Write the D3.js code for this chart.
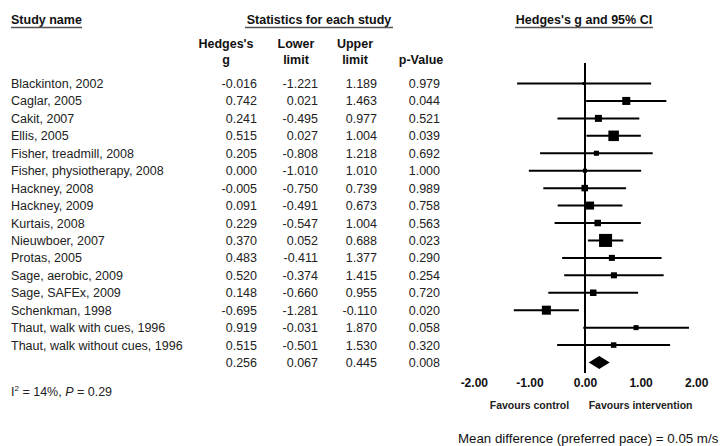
<!DOCTYPE html>
<html>
<head>
<meta charset="utf-8">
<script src="https://cdn.jsdelivr.net/npm/d3@7"></script>
<style>
  body { margin: 0; background: #fff; }
  svg { font-family: "Liberation Sans", Arial, sans-serif; }
</style>
</head>
<body>
<div id="chart"></div>
<script>
// forest plot: Hedges's g, preferred walking pace

const studies = [
    "Blackinton, 2002", "Caglar, 2005", "Cakit, 2007", "Ellis, 2005",
    "Fisher, treadmill, 2008", "Fisher, physiotherapy, 2008", "Hackney, 2008",
    "Hackney, 2009", "Kurtais, 2008", "Nieuwboer, 2007", "Protas, 2005",
    "Sage, aerobic, 2009", "Sage, SAFEx, 2009", "Schenkman, 1998",
    "Thaut, walk with cues, 1996", "Thaut, walk without cues, 1996"
];
const hedgesG = [-0.016, 0.742, 0.241, 0.515, 0.205, 0.000, -0.005, 0.091, 0.229, 0.370, 0.483, 0.520, 0.148, -0.695, 0.919, 0.515];
const lowerLimit = [-1.221, 0.021, -0.495, 0.027, -0.808, -1.010, -0.750, -0.491, -0.547, 0.052, -0.411, -0.374, -0.660, -1.281, -0.031, -0.501];
const upperLimit = [1.189, 1.463, 0.977, 1.004, 1.218, 1.010, 0.739, 0.673, 1.004, 0.688, 1.377, 1.415, 0.955, -0.110, 1.870, 1.530];
const pValues = [0.979, 0.044, 0.521, 0.039, 0.692, 1.000, 0.989, 0.758, 0.563, 0.023, 0.290, 0.254, 0.720, 0.020, 0.058, 0.320];
// relative weights (%) estimated from square sizes
const weights = [1.1, 7.6, 5.8, 13.1, 3.0, 1.9, 5.0, 7.6, 5.0, 20.1, 4.3, 4.3, 5.0, 9.6, 3.0, 3.6];

const summaryG = 0.256, summaryLower = 0.067, summaryUpper = 0.445, summaryP = 0.008;
const xTicks = [-2, -1, 0, 1, 2];

const width = 720, height = 446;
const svg = d3.select("#chart").append("svg")
    .attr("width", width).attr("height", height);

const x = d3.scaleLinear().domain([-2, 2]).range([473.8, 696.2]);
const y = d3.scaleLinear().domain([0, studies.length]).range([83.5, 362.5]);
const side = d3.scaleSqrt().domain([0, 20]).range([0, 13]);

// plain hyphen for negatives, like the original
const locale = d3.formatLocale({ decimal: ".", thousands: ",", grouping: [3], currency: ["", ""], minus: "-" });
const fmt = locale.format(".3f");
const fmtTick = locale.format(".2f");

const FS = "12.5px";

// --- headers ---
function header(txt, cx, cy, anchor, x1, x2) {
    svg.append("text").attr("x", cx).attr("y", cy)
        .attr("text-anchor", anchor).attr("font-size", FS).attr("font-weight", "bold")
        .attr("fill", "#111").text(txt);
    svg.append("line").attr("x1", x1).attr("x2", x2).attr("y1", cy + 3.5).attr("y2", cy + 3.5)
        .attr("stroke", "#555").attr("stroke-width", 1.3);
}
header("Study name", 11, 24, "start", 11, 82);
header("Statistics for each study", 319, 24, "middle", 245, 393);
header("Hedges's g and 95% CI", 584, 24, "middle", 515, 653);

const cols = [
    { lines: ["Hedges's", "g"], cx: 226, right: 257, vals: hedgesG, sum: summaryG },
    { lines: ["Lower", "limit"], cx: 296, right: 318, vals: lowerLimit, sum: summaryLower },
    { lines: ["Upper", "limit"], cx: 355, right: 377, vals: upperLimit, sum: summaryUpper },
    { lines: ["", "p-Value"], cx: 421, right: 440, vals: pValues, sum: summaryP }
];

cols.forEach(c => {
    c.lines.forEach((l, i) => {
        svg.append("text").attr("x", c.cx).attr("y", 47.5 + i * 16)
            .attr("text-anchor", "middle").attr("font-size", FS).attr("font-weight", "bold")
            .attr("fill", "#111").text(l);
    });
    svg.append("g").selectAll("text").data(c.vals.concat([c.sum])).join("text")
        .attr("x", c.right).attr("y", (d, i) => y(i) + 4.5)
        .attr("text-anchor", "end").attr("font-size", FS).attr("fill", "#222")
        .text(d => fmt(d));
});

svg.append("g").selectAll("text").data(studies).join("text")
    .attr("x", 11).attr("y", (d, i) => y(i) + 4.5)
    .attr("font-size", FS).attr("fill", "#222")
    .text(d => d);

// --- plot ---
const plot = svg.append("g");

plot.append("line")
    .attr("x1", x(0)).attr("x2", x(0)).attr("y1", 63).attr("y2", 373)
    .attr("stroke", "#000").attr("stroke-width", 2);

plot.selectAll(".ci").data(studies).join("line")
    .attr("class", "ci")
    .attr("x1", (d, i) => x(lowerLimit[i])).attr("x2", (d, i) => x(upperLimit[i]))
    .attr("y1", (d, i) => y(i)).attr("y2", (d, i) => y(i))
    .attr("stroke", "#000").attr("stroke-width", 2);

plot.selectAll(".sq").data(studies).join("rect")
    .attr("class", "sq")
    .attr("x", (d, i) => x(hedgesG[i]) - side(weights[i]) / 2)
    .attr("y", (d, i) => y(i) - side(weights[i]) / 2)
    .attr("width", (d, i) => side(weights[i]))
    .attr("height", (d, i) => side(weights[i]))
    .attr("fill", "#000");

const ys = y(studies.length);
plot.append("path")
    .attr("d", `M${x(summaryLower)},${ys} L${x(summaryG)},${ys - 6.5} L${x(summaryUpper)},${ys} L${x(summaryG)},${ys + 6.5} Z`)
    .attr("fill", "#000");

// --- axis (labels only) ---
const axisG = svg.append("g").attr("transform", "translate(0,374)")
    .call(d3.axisBottom(x).tickValues(xTicks).tickSize(0).tickPadding(4).tickFormat(fmtTick));
axisG.select(".domain").remove();
axisG.selectAll("text").attr("font-size", "12px").attr("font-weight", "bold")
    .attr("font-family", "Liberation Sans, Arial, sans-serif").attr("fill", "#111");

svg.append("text").attr("x", x(-1)).attr("y", 409).attr("text-anchor", "middle")
    .attr("font-size", "10.5px").attr("font-weight", "bold").attr("fill", "#222").text("Favours control");
svg.append("text").attr("x", x(1)).attr("y", 409).attr("text-anchor", "middle")
    .attr("font-size", "10.5px").attr("font-weight", "bold").attr("fill", "#222").text("Favours intervention");

svg.append("text").attr("x", 458).attr("y", 443)
    .attr("font-size", "13.3px").attr("fill", "#111")
    .text("Mean difference (preferred pace) = 0.05 m/s");

// heterogeneity
const het = svg.append("text").attr("x", 11).attr("y", 396).attr("font-size", FS).attr("fill", "#222");
het.append("tspan").text("I");
het.append("tspan").attr("font-size", "8px").attr("dy", -5).text("2");
het.append("tspan").attr("dy", 5).text(" = 14%, ");
het.append("tspan").attr("font-style", "italic").text("P");
het.append("tspan").text(" = 0.29");
</script>
</body>
</html>
